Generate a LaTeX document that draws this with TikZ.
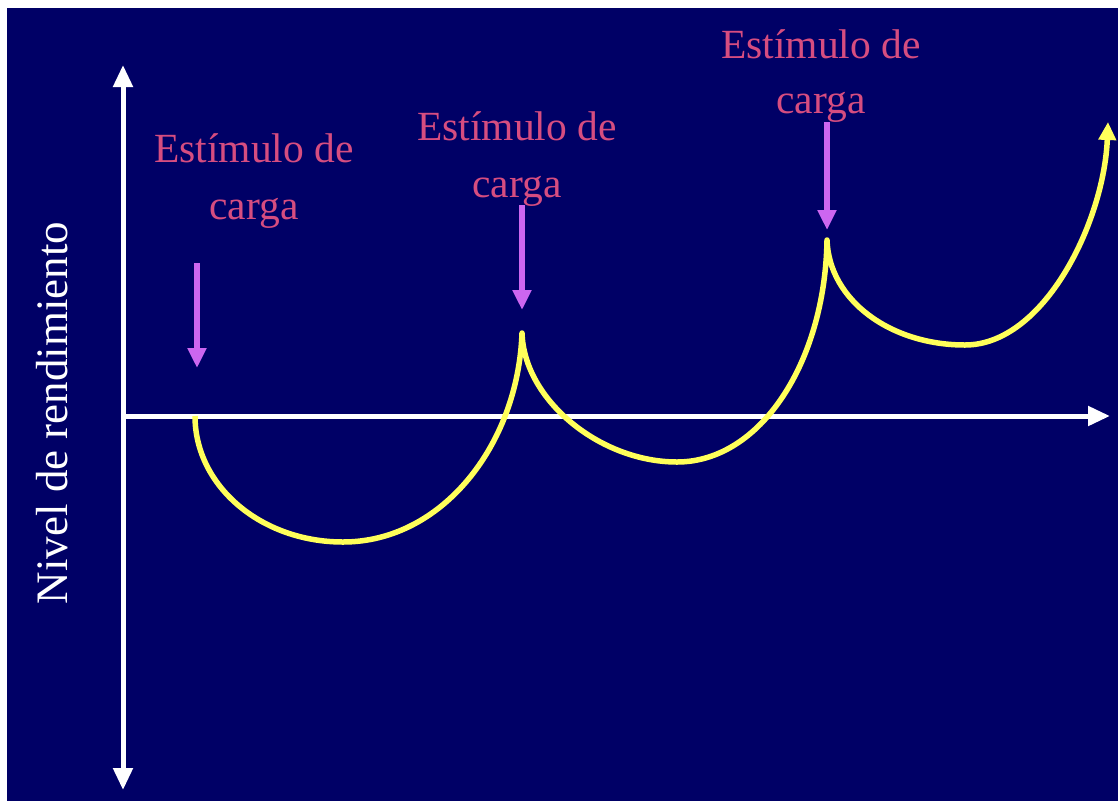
\documentclass[tikz,border=0pt]{standalone}
\usepackage{fontspec}
\setmainfont{Liberation Serif}
\usetikzlibrary{arrows.meta}
\definecolor{navy}{RGB}{0,0,102}
\definecolor{lbl}{RGB}{214,77,128}
\definecolor{curvey}{RGB}{255,255,90}
\definecolor{stim}{RGB}{204,102,240}
\tikzset{
  axisline/.style={draw=white, line width=5pt, -{Triangle[length=22pt,width=19pt]}},
  stimarrow/.style={draw=stim, line width=6pt, -{Triangle[length=20pt,width=18pt]}},
  perf/.style={draw=curvey, line width=5.5pt, line join=round, -{Triangle[length=18pt,width=17pt]}},
  lbltext/.style={text=lbl, font=\fontsize{41.5}{50}\selectfont, inner sep=0pt, anchor=base},
}
\begin{document}
\begin{tikzpicture}[x=1pt,y=-1pt]
\useasboundingbox (0,0) rectangle (1118,801);
\fill[white] (0,0) rectangle (1118,801);
\fill[navy] (7,8) rectangle (1118,801);
% axes
\coordinate (O) at (123,416);
\coordinate (ytop) at (123,65);
\coordinate (ybot) at (123,790);
\coordinate (xend) at (1110,416);
\draw[axisline] (O) -- (ytop);
\draw[axisline] (O) -- (ybot);
\draw[axisline] (O) -- (xend);
% y label
\node[text=white, font=\fontsize{45}{54}\selectfont, inner sep=0pt, anchor=base, rotate=90] (ylab) at (67,413) {Nivel de rendimiento};
% performance curve
\coordinate (s) at (195,416);
\coordinate (m1) at (343,542);
\coordinate (c1) at (522,333);
\coordinate (m2) at (677,462);
\coordinate (c2) at (827,240);
\coordinate (m3) at (965,345);
\coordinate (e) at (1108,122);
\draw[perf] (s) .. controls (195,486) and (261,542) .. (m1)
  .. controls (442,542) and (518,445) .. (c1)
  .. controls (524,400) and (600,462) .. (m2)
  .. controls (760,462) and (825,363) .. (c2)
  .. controls (829,300) and (890,345) .. (m3)
  .. controls (1044,345) and (1104,222) .. (e);
% stimulus arrows
\coordinate (a1s) at (197,263);
\coordinate (a1e) at (197,368);
\coordinate (a2s) at (522,205);
\coordinate (a2e) at (522,310);
\coordinate (a3s) at (827,122);
\coordinate (a3e) at (827,230);
\draw[stimarrow] (a1s) -- (a1e);
\draw[stimarrow] (a2s) -- (a2e);
\draw[stimarrow] (a3s) -- (a3e);
% labels
\node[lbltext] (l1a) at (254,162) {Estímulo de};
\node[lbltext] (l1b) at (254,219) {carga};
\node[lbltext] (l2a) at (517,140) {Estímulo de};
\node[lbltext] (l2b) at (517,197) {carga};
\node[lbltext] (l3a) at (821,58) {Estímulo de};
\node[lbltext] (l3b) at (821,113) {carga};
\end{tikzpicture}
\end{document}
